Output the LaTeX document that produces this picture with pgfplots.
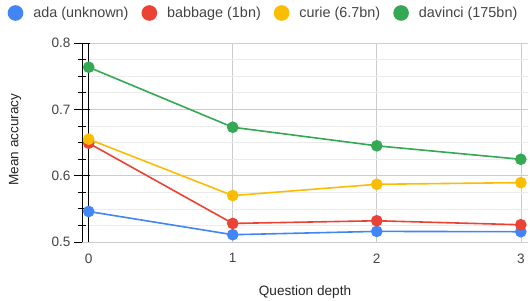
\documentclass[border=0pt]{standalone}
\usepackage{pgfplots}
\pgfplotsset{compat=1.18}
\usepackage{fontspec}
\setmainfont{Liberation Sans}
\definecolor{cA}{HTML}{4285F4}
\definecolor{cB}{HTML}{EA4335}
\definecolor{cC}{HTML}{FBBC04}
\definecolor{cD}{HTML}{34A853}
\definecolor{txt}{HTML}{444444}
\definecolor{majg}{HTML}{CCCCCC}
\definecolor{ming}{HTML}{EBEBEB}
\begin{document}
\begin{tikzpicture}[x=1pt,y=1pt]
\useasboundingbox (0,0) rectangle (530,300);
\begin{axis}[
  at={(82pt,58pt)}, anchor=south west,
  scale only axis, width=446pt, height=199pt,
  xmin=-0.0465, xmax=3.05, ymin=0.5, ymax=0.8,
  xtick={0,1,2,3},
  ytick={0.5,0.6,0.7,0.8},
  minor ytick={0.525,0.55,0.575,0.625,0.65,0.675,0.725,0.75,0.775},
  yticklabel style={/pgf/number format/fixed,/pgf/number format/precision=1,/pgf/number format/fixed zerofill},
  /pgf/number format/assume math mode=true,
  ticklabel style={font=\fontsize{13.6}{15}\selectfont, text=txt},
  axis y line*=left, axis x line*=bottom,
  y axis line style={black, line width=0.8pt, -},
  x axis line style={majg, line width=0.8pt, -},
  x tick style={draw=none},
  y tick style={black, line width=0.7pt},
  tick align=center,
  major tick length=16pt, minor tick length=8pt,
  grid=both,
  major grid style={majg, line width=0.6pt},
  minor grid style={ming, line width=0.6pt},
  xlabel={Question depth}, ylabel={Mean accuracy},
  label style={font=\fontsize{13.6}{15}\selectfont, text=black!85},
  xlabel style={at={(axis description cs:0.5,0)}, anchor=center, yshift=-50pt},
  ylabel style={at={(axis description cs:-0.150,0.515)}, anchor=center},
  legend columns=4,
  legend style={at={(axis description cs:0.407,1.1508)}, anchor=center, draw=none,
    font=\fontsize{14.4}{16}\selectfont, text=txt,
    /tikz/every odd column/.append style={column sep=8pt},
    /tikz/every even column/.append style={column sep=11pt}},
  legend image code/.code={\fill (7pt,0pt) circle (7pt);},
  every axis plot/.append style={line width=1.6pt, mark=*, mark size=5pt},
]
\draw[black, line width=0.8pt] (axis cs:0,0.5) -- (axis cs:0,0.8);
\addplot[cA, mark options={fill=cA, draw=cA}] coordinates {(0,0.546) (1,0.511) (2,0.516) (3,0.5155)};
\addlegendentry{ada (unknown)}
\addplot[cB, mark options={fill=cB, draw=cB}] coordinates {(0,0.649) (1,0.528) (2,0.532) (3,0.526)};
\addlegendentry{babbage (1bn)}
\addplot[cC, mark options={fill=cC, draw=cC}] coordinates {(0,0.655) (1,0.570) (2,0.587) (3,0.5895)};
\addlegendentry{curie (6.7bn)}
\addplot[cD, mark options={fill=cD, draw=cD}] coordinates {(0,0.7635) (1,0.673) (2,0.645) (3,0.6247)};
\addlegendentry{davinci (175bn)}
\end{axis}
\end{tikzpicture}
\end{document}
